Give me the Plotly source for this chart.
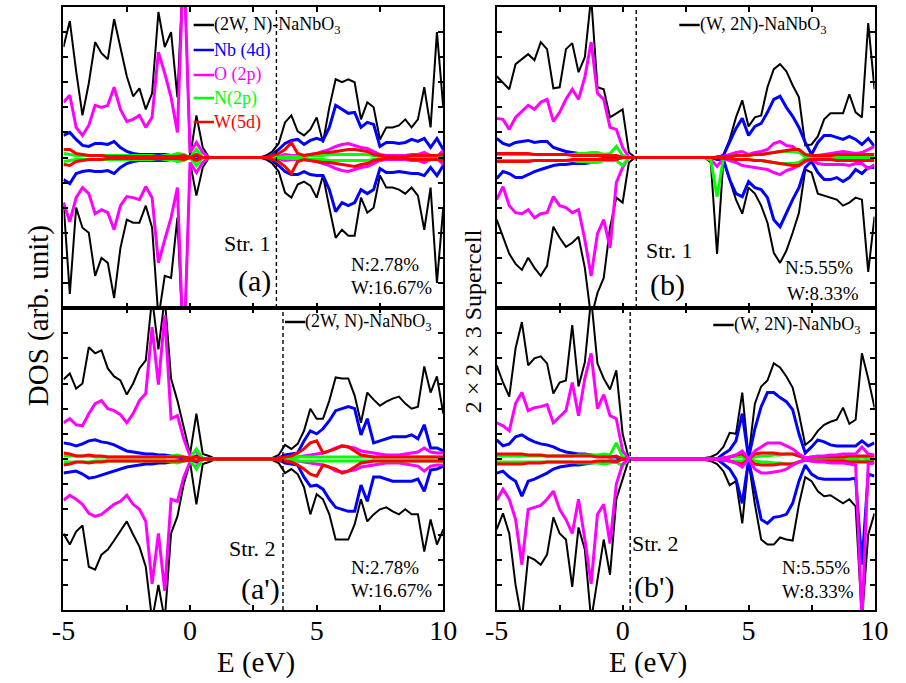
import plotly.graph_objects as go

W_PX, H_PX = 906, 683

# ---------------- data (DOS in arbitrary units; spin-up positive, spin-down negative) ----------------
E = [-5.0, -4.75, -4.5, -4.25, -4.0, -3.75, -3.5, -3.25, -3.0, -2.75, -2.5, -2.25, -2.0, -1.75, -1.5,
     -1.25, -1.0, -0.75, -0.5, -0.25, 0.0, 0.25, 0.5, 0.75, 1.0, 1.25, 1.5, 1.75, 2.0, 2.25, 2.5, 2.75,
     3.0, 3.25, 3.5, 3.75, 4.0, 4.25, 4.5, 4.75, 5.0, 5.25, 5.5, 5.75, 6.0, 6.25, 6.5, 6.75, 7.0, 7.25,
     7.5, 7.75, 8.0, 8.25, 8.5, 8.75, 9.0, 9.25, 9.5, 9.75, 10.0]
GAP = [0, 0, 0, 0, 0, 0, 0, 0]   # 1.0 ... 2.75 eV : no states

# band-edge (dashed line) positions, eV : (a), (b), (a'), (b')
edge_E = [3.41, 0.54, 3.67, 0.30]

# ---- (a) (2W, N)-NaNbO3, Str. 1 ----
a_tot_up_vb = [110, 136, 86, 42, 74, 115, 104, 98, 138, 108, 81, 61, 69, 48, 64, 145, 110, 125, 60, 200, 0, 42, 10, 0]
a_tot_up_cb = [2, 6, 14, 35, 42, 26, 22, 28, 40, 15, 50, 78, 75, 78, 75, 38, 55, 50, 18, 30, 30, 32, 38, 30, 38, 70, 30, 125, 50]
a_tot_dn_vb = [-45, -136, -50, -70, -75, -118, -100, -105, -140, -90, -62, -65, -65, -48, -70, -160, -118, -120, -60, -200, -5, -38, -10, 0]
a_tot_dn_cb = [-2, -6, -14, -35, -40, -27, -24, -28, -40, -18, -50, -80, -72, -78, -78, -40, -55, -50, -18, -30, -30, -32, -36, -30, -38, -72, -30, -125, -50]
a_nb_up_vb = [22, 25, 18, 12, 11, 14, 14, 13, 16, 10, 6, 4, 3, 3, 3, 3, 3, 2, 1, 0, 0, 2, 0, 0]
a_nb_up_cb = [0, 3, 8, 14, 17, 18, 13, 17, 19, 17, 30, 52, 48, 44, 45, 30, 35, 33, 11, 15, 15, 14, 15, 18, 16, 19, 10, 19, 8]
a_nb_dn_vb = [-22, -26, -16, -14, -13, -14, -14, -13, -16, -10, -6, -4, -3, -3, -3, -3, -3, -2, -1, 0, 0, -2, 0, 0]
a_nb_dn_cb = [0, -3, -8, -14, -17, -17, -14, -17, -18, -18, -32, -54, -45, -48, -45, -32, -36, -32, -11, -15, -15, -14, -15, -16, -16, -18, -10, -18, -8]
a_o_up_vb = [55, 62, 30, 22, 32, 52, 50, 52, 70, 48, 36, 38, 42, 30, 40, 105, 84, 60, 25, 200, 5, 15, 5, 0]
a_o_up_cb = [0, 0, 1, 3, 2, 2, 2, 3, 4, 6, 8, 11, 13, 14, 12, 10, 9, 6, 3, 2, 2, 2, 2, 3, 3, 5, 2, 1, 7]
a_o_dn_vb = [-45, -64, -40, -30, -36, -56, -52, -55, -72, -48, -39, -40, -42, -29, -40, -105, -82, -60, -30, -200, -5, -15, -5, 0]
a_o_dn_cb = [0, 0, -1, -3, -2, -2, -2, -3, -4, -6, -8, -11, -13, -14, -12, -10, -9, -6, -3, -2, -2, -2, -2, -3, -3, -5, -2, -1, -7]
a_n_up_vb = [4, 3, 2, 2, 2, 2, 2, 2, 2, 2, 2, 2, 2, 2, 2, 1, 2, 2, 4, 3, 0, 8, 0, 0]
a_n_up_cb = [0, 0, 0, 1, 1, 1, 1, 2, 2, 2, 3, 3, 3, 3, 3, 3, 3, 2, 1, 1, 1, 1, 1, 1, 1, 1, 1, 1, 1]
a_n_dn_vb = [-4, -3, -2, -2, -2, -2, -2, -2, -2, -2, -2, -2, -2, -2, -2, -1, -2, -2, -4, -3, 0, -8, 0, 0]
a_n_dn_cb = [0, 0, 0, -1, -1, -1, -1, -2, -2, -2, -3, -3, -3, -3, -3, -3, -3, -2, -1, -1, -1, -1, -1, -1, -1, -1, -1, -1, -1]
a_w_up_vb = [8, 8, 4, 3, 2, 2, 2, 1, 1, 1, 1, 1, 1, 1, 1, 1, 1, 1, 1, 2, 0, 3, 0, 0]
a_w_up_cb = [0, 2, 4, 8, 15, 4, 2, 3, 4, 5, 5, 6, 7, 8, 8, 7, 6, 3, 2, 1, 1, 1, 1, 2, 2, 2, 2, 2, 3]
a_w_dn_vb = [-7, -8, -4, -3, -2, -2, -2, -1, -1, -1, -1, -1, -1, -1, -1, -1, -1, -1, -1, -2, 0, -3, 0, 0]
a_w_dn_cb = [0, -2, -4, -9, -16, -4, -2, -3, -4, -5, -5, -6, -7, -8, -9, -7, -6, -3, -2, -1, -1, -1, -1, -2, -2, -2, -2, -2, -3]

# ---- (b) (W, 2N)-NaNbO3, Str. 1 ----
b_tot_up_vb = [81, 75, 68, 93, 98, 103, 97, 115, 108, 69, 70, 108, 114, 85, 100, 160, 70, 68, 40, 44, 48, 5, 0, 0]
b_tot_up_cb = [0, 0, 0, 1, 2, 18, 40, 57, 31, 40, 42, 70, 88, 93, 86, 72, 60, 12, 13, 21, 38, 44, 44, 44, 63, 45, 40, 134, 68]
b_tot_dn_vb = [-62, -80, -96, -106, -112, -100, -110, -118, -108, -69, -80, -89, -85, -79, -110, -160, -135, -120, -70, -40, -45, -5, 0, 0]
b_tot_dn_cb = [0, 0, -5, -96, -3, -22, -42, -56, -30, -36, -48, -65, -95, -105, -93, -75, -55, -12, -15, -36, -38, -40, -42, -48, -45, -40, -42, -114, -59]
b_nb_up_vb = [19, 14, 12, 15, 16, 17, 15, 16, 16, 10, 8, 6, 5, 4, 3, 4, 2, 1, 1, 1, 0, 0, 0, 0]
b_nb_up_cb = [0, 0, 0, 0, 2, 16, 29, 39, 22, 31, 34, 45, 58, 61, 50, 41, 30, 15, 3, 15, 22, 22, 20, 18, 21, 18, 13, 19, 11]
b_nb_dn_vb = [-21, -14, -16, -20, -20, -17, -14, -12, -10, -8, -7, -7, -6, -6, -6, -5, -4, -3, -2, -1, 0, 0, 0, 0]
b_nb_dn_cb = [0, 0, 0, -2, -2, -22, -36, -39, -24, -30, -32, -40, -62, -69, -55, -42, -30, -10, -4, -15, -22, -22, -20, -24, -20, -12, -16, -10, -10]
b_o_up_vb = [39, 38, 28, 40, 46, 52, 48, 55, 58, 36, 45, 58, 68, 58, 80, 115, 64, 58, 30, 28, 10, 0, 0, 0]
b_o_up_cb = [0, 0, 0, 0, 1, 3, 5, 6, 3, 5, 6, 8, 14, 16, 12, 11, 6, 2, 1, 2, 3, 4, 5, 6, 5, 4, 5, 8, 11]
b_o_dn_vb = [-42, -29, -48, -55, -56, -52, -60, -56, -55, -39, -48, -50, -55, -52, -82, -118, -76, -62, -90, -25, -10, 0, 0, 0]
b_o_dn_cb = [0, 0, -2, -9, -1, -3, -5, -8, -9, -10, -11, -12, -15, -17, -13, -11, -8, -4, -2, -6, -7, -7, -7, -7, -8, -6, -6, -11, -7]
b_n_up_vb = [3, 3, 3, 3, 3, 3, 3, 3, 3, 3, 3, 3, 3, 4, 4, 5, 5, 3, 4, 11, 2, 0, 0, 0]
b_n_up_cb = [0, 0, 0, 0, 0, 1, 2, 2, 2, 3, 3, 4, 5, 6, 6, 6, 5, 1, 0, 0, 0, 0, 0, 0, 0, 0, 0, 0, 0]
b_n_dn_vb = [-3, -3, -3, -3, -3, -3, -3, -3, -3, -3, -3, -3, -3, -4, -4, -5, -5, -3, -3, -3, -8, 0, 0, 0]
b_n_dn_cb = [0, 0, -3, -39, -1, -1, -2, -2, -2, -3, -3, -4, -5, -6, -6, -6, -5, -1, 0, 0, 0, 0, 0, 0, 0, 0, 0, 0, 0]
b_w_up_vb = [4, 4, 4, 4, 4, 4, 3, 3, 3, 3, 3, 3, 2, 2, 2, 2, 2, 2, 2, 2, 0, 0, 0, 0]
b_w_up_cb = [0, 0, 0, 0, 1, 1, 2, 2, 2, 3, 3, 4, 5, 6, 7, 8, 8, 3, 2, 2, 2, 2, 3, 3, 3, 3, 3, 3, 3]
b_w_dn_vb = [-4, -4, -4, -4, -4, -4, -3, -3, -3, -3, -3, -3, -2, -2, -2, -2, -2, -2, -2, -2, 0, 0, 0, 0]
b_w_dn_cb = [0, 0, 0, 0, -1, -1, -2, -2, -2, -3, -3, -4, -5, -6, -7, -8, -8, -3, -2, -2, -2, -2, -3, -3, -3, -3, -3, -3, -3]

# ---- (a') (2W, N)-NaNbO3, Str. 2 ----
ap_tot_up_vb = [79, 85, 70, 75, 111, 105, 108, 90, 82, 78, 64, 75, 90, 98, 160, 109, 160, 80, 58, 33, 5, 45, 5, 3]
ap_tot_up_cb = [0, 1, 4, 14, 10, 15, 28, 50, 40, 40, 58, 81, 80, 80, 63, 36, 66, 59, 53, 57, 60, 62, 55, 50, 52, 92, 66, 82, 45]
ap_tot_dn_vb = [-74, -85, -72, -66, -107, -110, -95, -90, -81, -71, -62, -75, -87, -107, -160, -125, -160, -74, -57, -25, -3, -45, -5, -3]
ap_tot_dn_cb = [0, -1, -4, -14, -10, -15, -28, -55, -35, -40, -55, -80, -80, -80, -65, -40, -62, -55, -50, -48, -52, -55, -50, -55, -55, -92, -60, -85, -70]
ap_nb_up_vb = [16, 15, 13, 15, 18, 19, 17, 16, 14, 11, 8, 7, 6, 5, 5, 4, 4, 3, 2, 1, 0, 3, 0, 0]
ap_nb_up_cb = [0, 0, 1, 4, 5, 6, 18, 28, 25, 30, 38, 48, 50, 52, 50, 24, 40, 16, 18, 20, 22, 22, 22, 24, 20, 34, 11, 11, 8]
ap_nb_dn_vb = [-14, -13, -12, -15, -19, -18, -16, -14, -12, -10, -8, -7, -6, -5, -5, -4, -4, -3, -2, -1, 0, -3, 0, 0]
ap_nb_dn_cb = [0, 0, -1, -4, -5, -6, -18, -27, -26, -30, -40, -48, -50, -52, -52, -26, -42, -18, -18, -20, -22, -22, -22, -22, -20, -32, -11, -10, -7]
ap_o_up_vb = [36, 40, 34, 33, 45, 55, 58, 50, 48, 44, 36, 45, 58, 65, 131, 74, 143, 40, 43, 20, 3, 8, 0, 0]
ap_o_up_cb = [0, 0, 0, 1, 2, 2, 3, 4, 5, 6, 8, 11, 13, 12, 11, 8, 7, 6, 5, 4, 4, 4, 5, 6, 7, 11, 7, 6, 6]
ap_o_dn_vb = [-41, -36, -40, -45, -54, -57, -55, -50, -45, -42, -36, -45, -50, -62, -124, -74, -131, -40, -42, -18, -3, -8, 0, 0]
ap_o_dn_cb = [0, 0, 0, -1, -2, -2, -3, -4, -5, -6, -8, -12, -13, -12, -11, -8, -7, -6, -5, -4, -4, -4, -5, -6, -7, -12, -7, -6, -6]
ap_n_up_vb = [3, 3, 3, 3, 3, 2, 2, 2, 2, 2, 2, 2, 2, 2, 2, 2, 2, 3, 4, 2, 1, 10, 0, 0]
ap_n_up_cb = [0, 0, 0, 1, 1, 2, 2, 2, 2, 2, 2, 2, 2, 2, 2, 2, 2, 2, 2, 2, 2, 2, 2, 2, 2, 2, 2, 2, 2]
ap_n_dn_vb = [-3, -3, -3, -3, -3, -2, -2, -2, -2, -2, -2, -2, -2, -2, -2, -2, -2, -3, -4, -2, -1, -10, 0, 0]
ap_n_dn_cb = [0, 0, 0, -1, -1, -2, -2, -2, -2, -2, -2, -2, -2, -2, -2, -2, -2, -2, -2, -2, -2, -2, -2, -2, -2, -2, -2, -2, -2]
ap_w_up_vb = [6, 5, 3, 3, 4, 3, 3, 2, 2, 2, 2, 2, 2, 2, 2, 2, 2, 2, 2, 2, 1, 2, 0, 0]
ap_w_up_cb = [0, 0, 1, 2, 3, 6, 10, 16, 18, 6, 8, 10, 13, 12, 8, 4, 3, 2, 2, 2, 2, 2, 2, 2, 2, 2, 2, 2, 2]
ap_w_dn_vb = [-6, -5, -3, -3, -4, -3, -3, -2, -2, -2, -2, -2, -2, -2, -2, -2, -2, -2, -2, -2, -1, -2, 0, 0]
ap_w_dn_cb = [0, 0, -1, -2, -3, -6, -10, -15, -17, -6, -8, -10, -14, -12, -8, -4, -3, -2, -2, -2, -2, -2, -2, -2, -2, -2, -2, -2, -2]

# ---- (b') (W, 2N)-NaNbO3, Str. 2 ----
bp_tot_up_vb = [93, 76, 62, 110, 136, 93, 100, 102, 95, 65, 76, 78, 133, 72, 96, 160, 95, 80, 69, 88, 25, 0, 0, 0]
bp_tot_up_cb = [0, 1, 2, 5, 12, 26, 25, 66, 2, 55, 72, 78, 95, 91, 82, 71, 45, 14, 19, 28, 34, 37, 39, 51, 35, 39, 105, 80, 51]
bp_tot_dn_vb = [-70, -54, -74, -125, -160, -97, -100, -105, -95, -58, -74, -80, -127, -68, -90, -160, -120, -80, -115, -40, -20, 0, 0, 0]
bp_tot_dn_cb = [0, -1, -2, -5, -12, -26, -22, -64, -2, -45, -80, -85, -85, -78, -80, -81, -45, -18, -22, -32, -37, -36, -40, -44, -40, -47, -160, -75, -54]
bp_nb_up_vb = [19, 13, 15, 22, 24, 20, 17, 15, 14, 12, 9, 7, 6, 5, 5, 4, 3, 3, 2, 2, 0, 0, 0, 0]
bp_nb_up_cb = [0, 0, 0, 0, 5, 9, 18, 45, 1, 30, 52, 66, 66, 61, 57, 49, 25, 6, 12, 19, 17, 14, 13, 13, 13, 13, 18, 13, 16]
bp_nb_dn_vb = [-14, -12, -18, -22, -37, -22, -20, -17, -14, -10, -8, -7, -6, -6, -5, -4, -3, -3, -2, -2, 0, 0, 0, 0]
bp_nb_dn_cb = [0, 0, 0, 0, -5, -10, -20, -44, -1, -30, -60, -64, -58, -57, -55, -44, -22, -6, -15, -19, -20, -20, -20, -20, -20, -19, -105, -15, -17]
bp_o_up_vb = [36, 33, 28, 55, 66, 48, 51, 52, 54, 36, 42, 48, 76, 43, 80, 105, 50, 64, 43, 40, 8, 0, 0, 0]
bp_o_up_cb = [0, 0, 0, 0, 1, 2, 4, 8, 0, 8, 12, 16, 16, 16, 13, 10, 5, 1, 2, 3, 3, 4, 4, 5, 5, 5, 12, 5, 4]
bp_o_dn_vb = [-41, -30, -40, -60, -105, -50, -48, -46, -40, -32, -50, -60, -74, -40, -80, -124, -55, -45, -84, -25, -5, 0, 0, 0]
bp_o_dn_cb = [0, 0, 0, 0, -1, -2, -4, -8, 0, -10, -14, -14, -13, -12, -10, -6, -3, -1, -2, -3, -3, -4, -4, -4, -5, -6, -160, -5, -4]
bp_n_up_vb = [3, 3, 3, 3, 3, 3, 3, 3, 3, 3, 3, 3, 3, 4, 4, 4, 4, 5, 4, 16, 2, 0, 0, 0]
bp_n_up_cb = [0, 0, 0, 0, 1, 2, 2, 2, 0, 2, 3, 3, 4, 4, 5, 5, 3, 0, 1, 1, 1, 1, 1, 1, 1, 1, 2, 1, 1]
bp_n_dn_vb = [-3, -3, -3, -3, -3, -3, -3, -3, -3, -3, -3, -3, -3, -4, -4, -4, -4, -5, -4, -3, -7, 0, 0, 0]
bp_n_dn_cb = [0, 0, 0, 0, -1, -2, -2, -2, 0, -2, -3, -3, -4, -4, -5, -5, -3, 0, -1, -1, -1, -1, -1, -1, -1, -1, -2, -1, -1]
bp_w_up_vb = [5, 5, 5, 5, 5, 4, 4, 4, 3, 3, 3, 3, 3, 3, 3, 3, 2, 2, 2, 3, 0, 0, 0, 0]
bp_w_up_cb = [0, 0, 0, 0, 1, 2, 4, 5, 0, 5, 6, 6, 6, 5, 5, 5, 3, 1, 2, 2, 2, 2, 2, 2, 3, 3, 3, 3, 3]
bp_w_dn_vb = [-5, -5, -5, -5, -5, -4, -4, -4, -3, -3, -3, -3, -3, -3, -3, -3, -2, -2, -2, -3, 0, 0, 0, 0]
bp_w_dn_cb = [0, 0, 0, 0, -1, -2, -4, -5, 0, -5, -6, -6, -6, -5, -5, -5, -3, -1, -2, -2, -2, -2, -2, -2, -3, -3, -3, -3, -3]

x_major = [-5, 0, 5, 10]
x_major_text = ["-5", "0", "5", "10"]
x_minor = [-2.5, 2.5, 7.5]
legend_a = ["(2W, N)-NaNbO<sub>3</sub>", "Nb (4d)", "O (2p)", "N(2p)", "W(5d)"]
legend_b = "(W, 2N)-NaNbO<sub>3</sub>"


def spec(vb, cb):
    assert len(vb) == 24 and len(cb) == 29, (len(vb), len(cb))
    return vb + GAP + cb


COL = {"tot": "#000000", "nb": "#0000ff", "o": "#ff00ff", "n": "#00ff00", "w": "#ff0000"}
LW = {"tot": 2.0, "nb": 3.0, "o": 3.0, "n": 3.0, "w": 3.0}

g = globals()
FONT = "Liberation Serif, Times New Roman, serif"


def X(p):
    return p / W_PX


def Y(p):
    return 1 - p / H_PX


# panel: prefix, axis suffix, x domain, y domain, draw order, bottom row?
panels = [
    ("a", "", [X(53), X(444)], [Y(308), Y(7)], ["tot", "nb", "o", "n", "w"], False),
    ("b", "2", [X(499), X(888)], [Y(308), Y(7)], ["tot", "nb", "o", "n", "w"], False),
    ("ap", "3", [X(53), X(444)], [Y(610), Y(308)], ["tot", "nb", "o", "n", "w"], True),
    ("bp", "4", [X(499), X(888)], [Y(610), Y(308)], ["tot", "nb", "n", "w", "o"], True),
]

fig = go.Figure()
layout = dict(width=W_PX, height=H_PX, margin=dict(l=0, r=0, t=0, b=0),
              paper_bgcolor="white", plot_bgcolor="white",
              font=dict(family=FONT, color="black"), showlegend=False)

yt = [-150 + 25 * k for k in range(13)]

shapes = []
for i, (pre, sfx, xd, yd, order, bottom) in enumerate(panels):
    for comp in order:
        for sp in ("up", "dn"):
            vals = spec(g[f"{pre}_{comp}_{sp}_vb"], g[f"{pre}_{comp}_{sp}_cb"])
            fig.add_trace(go.Scatter(x=E, y=vals, mode="lines", xaxis="x" + sfx, yaxis="y" + sfx,
                                     line=dict(color=COL[comp], width=LW[comp]), hoverinfo="skip"))
    layout["xaxis" + sfx] = dict(domain=xd, anchor="y" + sfx, range=[-5, 10], showgrid=False, zeroline=False,
                                 showline=True, linecolor="black", linewidth=2, mirror="ticks",
                                 ticks="inside", ticklen=5, tickwidth=1.5, tickcolor="black",
                                 tickvals=x_major, ticktext=x_major_text, showticklabels=bottom,
                                 ticklabelstandoff=-6,
                                 minor=dict(tickvals=x_minor, ticks="inside", ticklen=5, tickwidth=1.5,
                                            tickcolor="black", showgrid=False),
                                 tickfont=dict(family=FONT, size=28, color="black"))
    layout["yaxis" + sfx] = dict(domain=yd, anchor="x" + sfx, range=[-150, 150], showgrid=False, zeroline=False,
                                 showline=True, linecolor="black", linewidth=2, mirror="ticks",
                                 ticks="inside", ticklen=5, tickwidth=1.5, tickcolor="black",
                                 tickvals=yt, showticklabels=False)
    shapes.append(dict(type="line", xref="x" + sfx, yref=f"y{sfx} domain", x0=edge_E[i], x1=edge_E[i],
                       y0=0, y1=1, line=dict(color="black", width=1.4, dash="4px,3px")))

annotations = []


def txt(s, x, y, size, color="black", xanchor="center", angle=0):
    annotations.append(dict(text=s, x=X(x), y=Y(y), xref="paper", yref="paper", showarrow=False,
                            xanchor=xanchor, yanchor="middle", textangle=angle,
                            font=dict(family=FONT, size=size, color=color)))


def legline(x0, x1, y, color):
    shapes.append(dict(type="line", xref="paper", yref="paper", x0=X(x0), x1=X(x1), y0=Y(y), y1=Y(y),
                       line=dict(color=color, width=2.5)))


# legend of (a)
leg_cols = ["#000000", "#0000ff", "#ff00ff", "#00ff00", "#ff0000"]
for k, (lab, c) in enumerate(zip(legend_a, leg_cols)):
    yy = [25, 50, 75, 98, 122][k]
    legline(187, 208, yy, c)
    txt(lab, 206, yy, 18, c, "left")
# legends of other panels
legline(687, 708, 25, "black"); txt(legend_b, 706, 25, 18, "black", "left")
legline(281, 302, 322, "black"); txt(legend_a[0], 300, 322, 18, "black", "left")
legline(722, 743, 325, "black"); txt(legend_b, 741, 325, 18, "black", "left")

# panel labels
txt("Str. 1", 242, 243, 22); txt("(a)", 250, 281, 30)
txt("N:2.78%", 347, 264, 19, xanchor="left"); txt("W:16.67%", 347, 287, 19, xanchor="left")
txt("Str. 1", 676, 250, 22); txt("(b)", 675, 285, 30)
txt("N:5.55%", 794, 267, 19, xanchor="left"); txt("W:8.33%", 796, 293, 19, xanchor="left")
txt("Str. 2", 247, 548, 22); txt("(a')", 256, 589, 30)
txt("N:2.78%", 347, 567, 19, xanchor="left"); txt("W:16.67%", 347, 590, 19, xanchor="left")
txt("Str. 2", 662, 543, 22); txt("(b')", 661, 587, 30)
txt("N:5.55%", 791, 567, 19, xanchor="left"); txt("W:8.33%", 791, 591, 19, xanchor="left")

# axis titles
txt("E (eV)", 251, 662, 29)
txt("E (eV)", 655, 662, 29)
txt("DOS (arb. unit)", 27, 316, 29, angle=-90)
txt("2 × 2 × 3 Supercell", 475, 321, 24, angle=-90)

layout["shapes"] = shapes
layout["annotations"] = annotations
fig.update_layout(**layout)
fig.write_html("out.html", config={"displayModeBar": False},
               post_script="document.body.style.margin='0px';")
